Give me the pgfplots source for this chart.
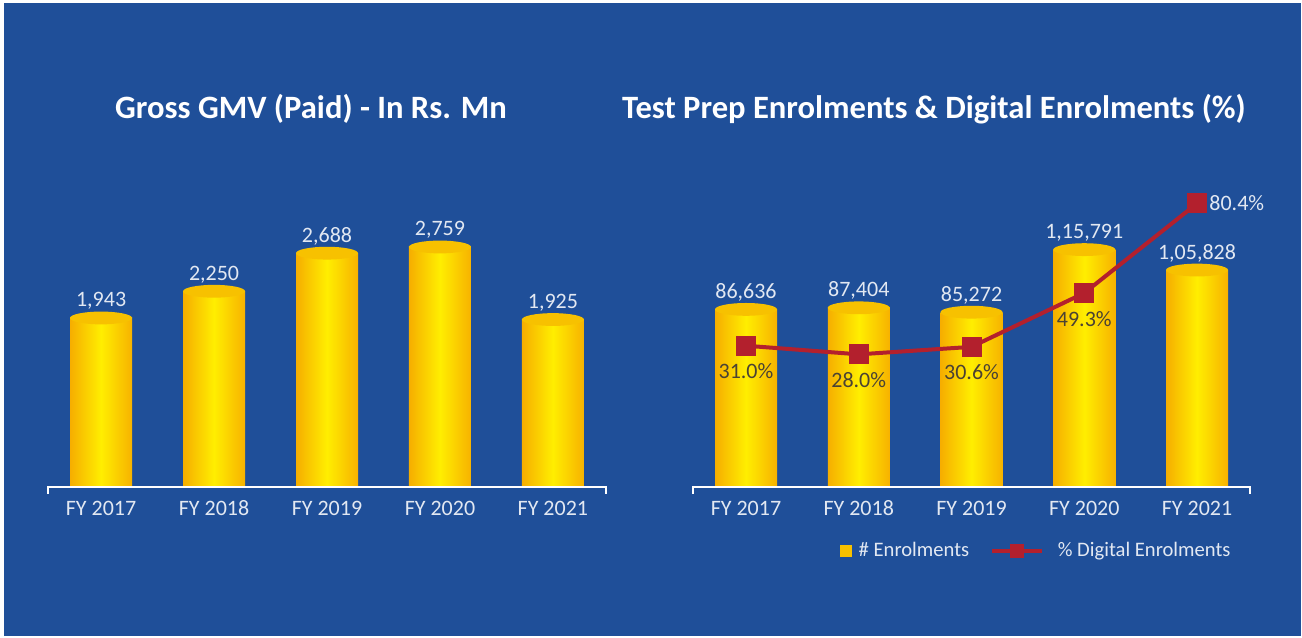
\documentclass[border=0pt]{standalone}
\usepackage{pgfplots}
\pgfplotsset{compat=1.18}
\usepackage{fontspec}
\setmainfont{Carlito}

\definecolor{bgblue}{HTML}{1F4F99}
\definecolor{barL}{HTML}{F6AE00}
\definecolor{barM}{HTML}{FFEE00}
\definecolor{barR}{HTML}{F7B200}
\definecolor{captop}{HTML}{F7C100}
\definecolor{lbl}{HTML}{E2E8F2}
\definecolor{lineRed}{HTML}{B3202D}
\definecolor{pctdark}{HTML}{4A4234}

\newcommand{\lblfont}{\fontsize{11bp}{13bp}\selectfont}
\newcommand{\legfont}{\fontsize{10.3bp}{12bp}\selectfont}
\newcommand{\titlefont}{\fontsize{16.3bp}{19bp}\selectfont\bfseries}

% flat top of each cylinder, drawn at the bar's value
\pgfdeclareplotmark{cyltop}{%
  \pgfpathellipse{\pgfpointorigin}{\pgfpoint{15.5bp}{0bp}}{\pgfpoint{0bp}{3.2bp}}%
  \pgfusepathqfill}

\pgfplotsset{
  cylaxis/.style={
    scale only axis, height=168.5bp, ymin=0,
    xmin=-0.47, xmax=4.47, clip=false,
    axis x line*=bottom, axis y line=none,
    x axis line style={draw=none},
    xtick={0,1,2,3,4},
    xticklabels={FY 2017,FY 2018,FY 2019,FY 2020,FY 2021},
    major tick length=0,
    xticklabel style={font=\lblfont, text=lbl, anchor=base, yshift=-14.5bp, inner sep=0pt},
  },
  % one plot per bar, so that every cylinder gets its own shading
  cylbar/.style={
    ybar, bar width=31bp, draw=none,
    left color=barL, right color=barR, middle color=barM,
    nodes near coords, point meta=explicit symbolic,
    every node near coord/.append style={font=\lblfont, text=lbl, anchor=base, yshift=5.5bp, inner sep=0pt},
  },
  cyltopmark/.style={only marks, mark=cyltop, mark options={fill=captop, draw=none}},
}
\newcommand{\bracketline}{%
  \draw[white, line width=1bp] ([yshift=-3.5bp]rel axis cs:0,0) -- (rel axis cs:0,0)
    -- (rel axis cs:1,0) -- ([yshift=-3.5bp]rel axis cs:1,0);}

\begin{document}
\begin{tikzpicture}
\useasboundingbox (0,0) rectangle (651bp,319bp);
\fill[white] (0,0) rectangle (651bp,319bp);
\fill[bgblue] (2bp,1bp) rectangle (650.5bp,317.5bp);

\node[font=\titlefont, text=white, anchor=base] at (155.5bp,259.5bp) {Gross GMV (Paid) - In Rs. Mn};
\node[font=\titlefont, text=white, anchor=base] at (467bp,259.5bp) {Test Prep Enrolments \& Digital Enrolments (\%)};

% left: gross GMV
\begin{axis}[cylaxis, at={(24bp,75.5bp)}, anchor=south west, width=279bp, ymax=3874]
\addplot[cylbar] coordinates {(0,1943) [1{,}943]};
\addplot[cylbar] coordinates {(1,2250) [2{,}250]};
\addplot[cylbar] coordinates {(2,2688) [2{,}688]};
\addplot[cylbar] coordinates {(3,2759) [2{,}759]};
\addplot[cylbar] coordinates {(4,1925) [1{,}925]};
\addplot[cyltopmark] coordinates {(0,1943) (1,2250) (2,2688) (3,2759) (4,1925)};
\bracketline
\end{axis}

% right: enrolments
\begin{axis}[cylaxis, at={(346.5bp,75.5bp)}, anchor=south west, width=278.5bp, ymax=164390]
\addplot[cylbar] coordinates {(0,86636) [86{,}636]};
\addplot[cylbar] coordinates {(1,87404) [87{,}404]};
\addplot[cylbar] coordinates {(2,85272) [85{,}272]};
\addplot[cylbar] coordinates {(3,115791) [1{,}15{,}791]};
\addplot[cylbar] coordinates {(4,105828) [1{,}05{,}828]};
\addplot[cyltopmark] coordinates {(0,86636) (1,87404) (2,85272) (3,115791) (4,105828)};
\bracketline
\end{axis}

% right: digital share (secondary scale)
\begin{axis}[scale only axis, at={(346.5bp,75.5bp)}, anchor=south west,
  width=278.5bp, height=168.5bp, xmin=-0.47, xmax=4.47,
  ymin=-18.06, ymax=98.96, hide axis, clip=false,
  legend style={at={(0.618,-0.19)}, anchor=center, draw=none, fill=none,
    text=lbl, font=\legfont, legend columns=2,
    /tikz/every even column/.append style={column sep=8.5bp}},
]
\addlegendimage{legend image code/.code={\fill[captop] (0bp,-2.75bp) rectangle (5.5bp,2.75bp);
  \path (7bp,0bp);}}
\addlegendentry{\# Enrolments}
\addplot[lineRed, line width=2bp, mark=square*, mark size=4bp,
  mark options={solid, fill=lineRed, draw=none},
  legend image code/.code={\draw[lineRed, line width=1.6bp] (0bp,0bp) -- (25bp,0bp);
    \fill[lineRed] (10bp,-2.5bp) rectangle (15bp,2.5bp); \path (30bp,0bp);}]
  coordinates {(0,31.0) (1,28.0) (2,30.6) (3,49.3) (4,80.4)};
\addlegendentry{\% Digital Enrolments}
\addplot[draw=none, forget plot, nodes near coords, point meta=explicit symbolic,
  every node near coord/.append style={font=\lblfont, text=pctdark, anchor=base, yshift=-16.5bp, inner sep=0pt}]
  coordinates {(0,31.0) [31.0\%] (1,28.0) [28.0\%] (2,30.6) [30.6\%] (3,49.3) [49.3\%]};
\addplot[draw=none, forget plot, nodes near coords, point meta=explicit symbolic,
  every node near coord/.append style={font=\lblfont, text=lbl, anchor=west, xshift=6bp, inner sep=0pt}]
  coordinates {(4,80.4) [80.4\%]};
\end{axis}
\end{tikzpicture}
\end{document}
